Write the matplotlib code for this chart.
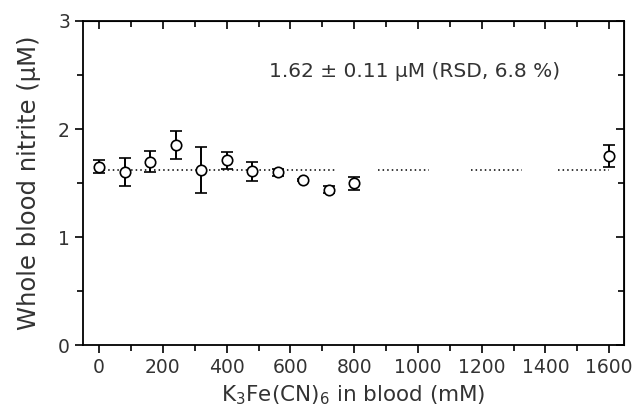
import matplotlib.pyplot as plt
from matplotlib.ticker import MultipleLocator

# K3Fe(CN)6 concentration (mM) and whole blood nitrite (uM)
conc = [0, 80, 160, 240, 320, 400, 480, 560, 640, 720, 800, 1600]
nitrite = [1.65, 1.60, 1.70, 1.85, 1.62, 1.71, 1.61, 1.60, 1.53, 1.44, 1.50, 1.75]
err = [0.06, 0.13, 0.10, 0.13, 0.21, 0.08, 0.09, 0.03, 0.01, 0.03, 0.06, 0.10]

mean_value = 1.62
mean_segments = [(0, 740), (875, 1035), (1165, 1325), (1440, 1600)]

text_color = '#333333'
plt.rcParams['font.family'] = ['DejaVu Sans']
plt.rcParams['mathtext.fontset'] = 'dejavusans'

fig = plt.figure(figsize=(6.35, 4.2), dpi=100)
ax = fig.add_axes([0.131, 0.178, 0.851, 0.772])

for x0, x1 in mean_segments:
    ax.plot([x0, x1], [mean_value, mean_value], color='black', linestyle=(0, (1, 2)),
            linewidth=1.1, zorder=1)

ax.errorbar(conc, nitrite, yerr=err, fmt='o', markersize=7.5, markerfacecolor='white',
            markeredgecolor='black', markeredgewidth=1.2, ecolor='black',
            elinewidth=1.4, capsize=4.5, capthick=1.4, zorder=3)

ax.text(0.614, 0.845, '1.62 ± 0.11 µM (RSD, 6.8 %)', transform=ax.transAxes,
        ha='center', va='center', fontsize=14.5, color=text_color)

ax.set_xlim(-50, 1645)
ax.set_ylim(0, 3)
ax.xaxis.set_major_locator(MultipleLocator(200))
ax.xaxis.set_minor_locator(MultipleLocator(100))
ax.yaxis.set_major_locator(MultipleLocator(1))
ax.yaxis.set_minor_locator(MultipleLocator(0.5))

ax.tick_params(axis='both', which='both', colors='black', labelcolor=text_color,
               labelsize=13.5, width=1.2)
ax.tick_params(which='major', length=6)
ax.tick_params(which='minor', length=4)
ax.tick_params(axis='x', which='both', direction='out', bottom=True, top=False)
ax.tick_params(axis='y', which='both', direction='out', left=True, right=False)

# inward ticks on top and right
ax_top = ax.secondary_xaxis('top')
ax_top.xaxis.set_major_locator(MultipleLocator(200))
ax_top.xaxis.set_minor_locator(MultipleLocator(100))
ax_top.tick_params(which='both', direction='in', labeltop=False, width=1.2)
ax_top.tick_params(which='major', length=6)
ax_top.tick_params(which='minor', length=4)
ax_right = ax.secondary_yaxis('right')
ax_right.yaxis.set_major_locator(MultipleLocator(1))
ax_right.yaxis.set_minor_locator(MultipleLocator(0.5))
ax_right.tick_params(which='both', direction='in', labelright=False, width=1.2)
ax_right.tick_params(which='major', length=6)
ax_right.tick_params(which='minor', length=4)

for spine in ax.spines.values():
    spine.set_linewidth(1.3)

ax.set_xlabel(r'K$_3$Fe(CN)$_6$ in blood (mM)', fontsize=15.5, color=text_color, labelpad=4)
ax.set_ylabel('Whole blood nitrite (µM)', fontsize=17.5, color=text_color, labelpad=12)

fig.savefig('out.png', dpi=100)
